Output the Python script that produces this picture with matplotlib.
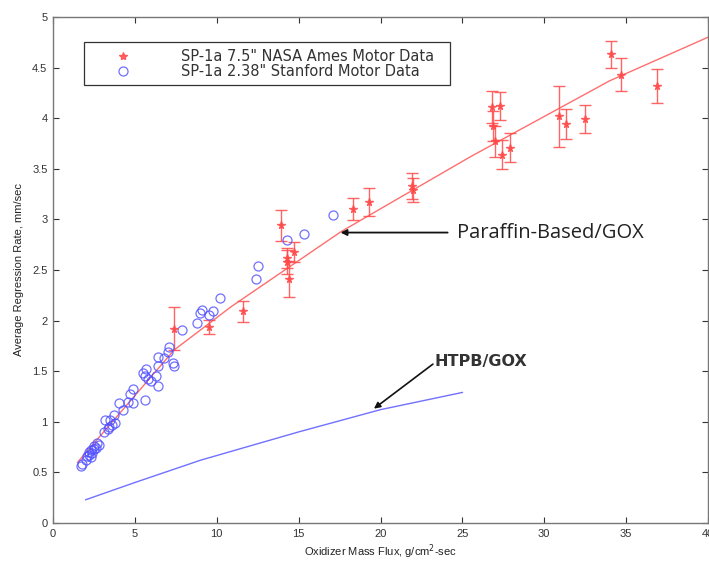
import matplotlib
matplotlib.use("Agg")
import matplotlib.pyplot as plt
from matplotlib.lines import Line2D

plt.rcParams['font.family'] = ['Liberation Sans', 'DejaVu Sans']

# NASA Ames 7.5" motor data (with error bars)
nasa_flux = [7.4, 9.5, 11.6, 13.9, 14.3, 14.3, 14.4, 14.7, 18.3, 19.3, 21.9, 22.0,
             26.8, 27.3, 26.9, 27.0, 27.4, 27.9, 30.9, 31.3, 32.5, 34.1, 34.7, 36.9]
nasa_rate = [1.92, 1.94, 2.09, 2.94, 2.62, 2.58, 2.41, 2.68, 3.10, 3.17, 3.33, 3.29,
             4.11, 4.12, 3.92, 3.77, 3.64, 3.71, 4.02, 3.94, 3.99, 4.63, 4.43, 4.32]
nasa_err = [0.21, 0.07, 0.10, 0.15, 0.10, 0.12, 0.18, 0.10, 0.11, 0.14, 0.13, 0.12,
            0.16, 0.14, 0.15, 0.15, 0.14, 0.14, 0.30, 0.15, 0.14, 0.13, 0.16, 0.17]

# Stanford 2.38" motor data
stan_flux = [1.7, 1.8, 2.0, 2.1, 2.2, 2.2, 2.3, 2.4, 2.5, 2.5, 2.6, 2.7, 2.8, 2.3,
             3.1, 3.2, 3.35, 3.4, 3.5, 3.7, 3.8, 3.6,
             4.0, 4.3, 4.6, 4.7, 4.9, 4.9, 5.5, 5.6, 5.7, 5.8, 5.6, 6.0, 6.3, 6.4, 6.4, 6.4,
             6.8, 7.0, 7.1, 7.3, 7.4, 7.9, 8.8, 9.0, 9.1, 9.5, 9.8, 10.2, 12.4, 12.5,
             14.3, 15.3, 17.1]
stan_rate = [0.56, 0.58, 0.62, 0.66, 0.67, 0.70, 0.72, 0.69, 0.76, 0.73, 0.74, 0.79, 0.77, 0.65,
             0.90, 1.02, 0.93, 0.95, 1.02, 1.07, 0.99, 0.97,
             1.19, 1.12, 1.20, 1.27, 1.32, 1.19, 1.48, 1.45, 1.52, 1.42, 1.22, 1.40, 1.45, 1.35, 1.55, 1.64,
             1.63, 1.69, 1.74, 1.58, 1.55, 1.91, 1.98, 2.08, 2.10, 2.06, 2.09, 2.22, 2.41, 2.54,
             2.80, 2.86, 3.04]

# Paraffin-based / GOX fit curve
paraffin_flux = [1.5, 7.4, 10.9, 17.6, 25.5, 34.0, 40.0]
paraffin_rate = [0.60, 1.71, 2.14, 2.88, 3.62, 4.37, 4.80]

# HTPB / GOX curve
htpb_flux = [2.0, 5.0, 9.0, 15.0, 20.0, 25.0]
htpb_rate = [0.23, 0.40, 0.62, 0.90, 1.12, 1.29]

series_labels = ['SP-1a 7.5" NASA Ames Motor Data', 'SP-1a 2.38" Stanford Motor Data']

x_ticks = [0, 5, 10, 15, 20, 25, 30, 35, 40]
y_ticks = [0, 0.5, 1, 1.5, 2, 2.5, 3, 3.5, 4, 4.5, 5]
y_ticklabels = ['0', '0.5', '1', '1.5', '2', '2.5', '3', '3.5', '4', '4.5', '5']

red = '#ff4a4a'
blue = '#4d4dff'

fig = plt.figure(figsize=(7.09, 5.62), dpi=100)
ax = fig.add_axes([53 / 709, 1 - 523 / 562, (708 - 53) / 709, (523 - 17) / 562])

ax.plot(paraffin_flux, paraffin_rate, color=red, lw=1.0, alpha=0.8, zorder=2)
ax.plot(htpb_flux, htpb_rate, color=blue, lw=1.0, alpha=0.8, zorder=2)

ax.errorbar(nasa_flux, nasa_rate, yerr=nasa_err, fmt='*', color=red, ms=5.5,
            ecolor=red, elinewidth=1.0, capsize=4.5, capthick=1.0, alpha=0.85, zorder=3)
ax.plot(stan_flux, stan_rate, 'o', mfc='none', mec=blue, ms=6.5, mew=0.9, alpha=0.8, zorder=3)

h_nasa = Line2D([], [], ls='none', marker='*', color=red, ms=6, alpha=0.85)
h_stan = Line2D([], [], ls='none', marker='o', mfc='none', mec=blue, ms=6.5, mew=0.9, alpha=0.8)

ax.set_xlim(0, 40)
ax.set_ylim(0, 5)
ax.set_xticks(x_ticks)
ax.set_yticks(y_ticks)
ax.set_yticklabels(y_ticklabels)
ax.tick_params(direction='in', length=4, width=0.8, labelsize=8, colors='#333333',
               top=True, right=True, pad=4)
for s in ax.spines.values():
    s.set_color('#777777')
    s.set_linewidth(1.0)

ax.set_xlabel('Oxidizer Mass Flux, g/cm$^2$-sec', fontsize=8, color='#222222', labelpad=3)
ax.set_ylabel('Average Regression Rate, mm/sec', fontsize=8, color='#222222', labelpad=6)

leg = ax.legend([h_nasa, h_stan], series_labels,
                loc='upper left', bbox_to_anchor=(1.89 / 40, 4.75 / 5, (24.27 - 1.89) / 40, 0.0),
                mode='expand', prop={'family': 'DejaVu Sans', 'size': 10.5},
                handlelength=4.4, handletextpad=1.8,
                labelspacing=0.0, borderpad=0.45, borderaxespad=0, fancybox=False,
                framealpha=1, edgecolor='#333333')
leg.get_frame().set_linewidth(0.9)
for t in leg.get_texts():
    t.set_color('#333333')

ax.annotate('', xy=(17.56, 2.87), xytext=(24.1, 2.87),
            arrowprops=dict(arrowstyle='-|>', color='#111111', lw=1.3,
                            mutation_scale=9, shrinkA=0, shrinkB=0), zorder=4)
ax.text(24.7, 2.87, 'Paraffin-Based/GOX', fontsize=14.5, family=['Open Sans', 'DejaVu Sans'],
        color='#222222', ha='left', va='center')

ax.annotate('', xy=(19.6, 1.13), xytext=(23.2, 1.57),
            arrowprops=dict(arrowstyle='-|>', color='#111111', lw=1.2,
                            mutation_scale=9, shrinkA=0, shrinkB=0), zorder=4)
ax.text(23.3, 1.60, 'HTPB/GOX', fontsize=11.5, fontweight='bold',
        family=['DejaVu Sans'], color='#333333', ha='left', va='center')

fig.savefig('out.png', dpi=100)
